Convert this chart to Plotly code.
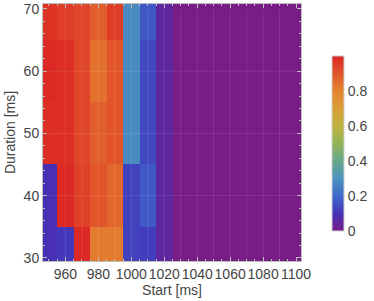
import plotly.graph_objects as go

# ---- data ----
starts = [950, 960, 970, 980, 990, 1000, 1010, 1020, 1030, 1040, 1050, 1060, 1070, 1080, 1090, 1100]
durations = [30, 40, 50, 60, 70]
tail = [0.0] * 8
row_30 = [0.09, 0.11, 0.99, 0.82, 0.82, 0.13, 0.12, 0.05] + tail
row_40 = [0.09, 0.99, 0.94, 0.90, 0.86, 0.13, 0.17, 0.05] + tail
row_50 = [0.98, 0.98, 0.93, 0.88, 0.90, 0.28, 0.14, 0.05] + tail
row_60 = [0.99, 0.98, 0.93, 0.84, 0.90, 0.28, 0.14, 0.05] + tail
row_70 = [0.97, 0.95, 0.93, 0.88, 0.95, 0.28, 0.17, 0.05] + tail
z = [row_30, row_40, row_50, row_60, row_70]

x_ticks = [960, 980, 1000, 1020, 1040, 1060, 1080, 1100]
y_ticks = [30, 40, 50, 60, 70]
cbar_ticks = [0, 0.2, 0.4, 0.6, 0.8]
cbar_text = ["0", "0.2", "0.4", "0.6", "0.8"]

rainbow = [
    [0.0, "#781C86"],
    [0.1, "#4431B8"],
    [0.2, "#3F6ACC"],
    [0.3, "#4B93BE"],
    [0.4, "#66A88A"],
    [0.5, "#92B456"],
    [0.6, "#BFB33F"],
    [0.7, "#D99E36"],
    [0.8, "#E3832F"],
    [0.9, "#E2552B"],
    [1.0, "#DB2423"],
]

FONT = "Liberation Sans, Arial, sans-serif"
TXT = "#444444"
FRAME = "#bdbdbd"
FS = 14

fig = go.Figure()
fig.add_trace(go.Heatmap(
    x=starts, y=durations, z=z,
    colorscale=rainbow, zmin=0, zmax=1,
    colorbar=dict(
        x=1.12, xanchor="left", xpad=0, ypad=0, y=0.457, yanchor="middle",
        len=175, lenmode="pixels", thickness=12,
        outlinecolor="#d0d0d0", outlinewidth=1,
        tickvals=cbar_ticks, ticktext=cbar_text,
        ticks="",
        tickfont=dict(family=FONT, size=FS, color=TXT),
    ),
    hoverinfo="skip",
))

# faint seams at sample positions (as in the rendered density polygons)
shapes = []
for xv in starts[1:-1]:
    shapes.append(dict(type="line", xref="x", yref="y", x0=xv, x1=xv,
                       y0=durations[0], y1=durations[-1], layer="above",
                       line=dict(color="rgba(255,255,255,0.10)", width=1)))
for yv in durations[1:-1]:
    shapes.append(dict(type="line", xref="x", yref="y", x0=starts[0], x1=starts[-1],
                       y0=yv, y1=yv, layer="above",
                       line=dict(color="rgba(255,255,255,0.10)", width=1)))

fig.update_layout(
    width=374, height=301,
    margin=dict(l=43, r=73, t=4, b=40),
    paper_bgcolor="white", plot_bgcolor="white",
    font=dict(family=FONT, size=FS, color=TXT),
    shapes=shapes,
    xaxis=dict(
        range=[946.4, 1103], tickvals=x_ticks, tickangle=0,
        showgrid=False, zeroline=False,
        showline=True, linecolor=FRAME, linewidth=1, mirror="allticks",
        ticks="inside", ticklen=4, tickcolor=FRAME,
        minor=dict(dtick=5, tick0=950, ticks="inside", ticklen=2, tickcolor=FRAME),
        tickfont=dict(family=FONT, size=FS, color=TXT),
        title=dict(text="Start [ms]", font=dict(family=FONT, size=FS, color=TXT), standoff=4),
        automargin=False,
    ),
    yaxis=dict(
        range=[29.5, 70.8], tickvals=y_ticks,
        showgrid=False, zeroline=False,
        showline=True, linecolor=FRAME, linewidth=1, mirror="allticks",
        ticks="inside", ticklen=4, tickcolor=FRAME,
        minor=dict(dtick=2, tick0=30, ticks="inside", ticklen=2, tickcolor=FRAME),
        tickfont=dict(family=FONT, size=FS, color=TXT),
        title=dict(text="Duration [ms]", font=dict(family=FONT, size=FS, color=TXT), standoff=4),
        automargin=False,
    ),
)

fig.write_html("out.html", config={"displayModeBar": False},
               post_script="document.body.style.margin='0';document.body.style.overflow='hidden';")
